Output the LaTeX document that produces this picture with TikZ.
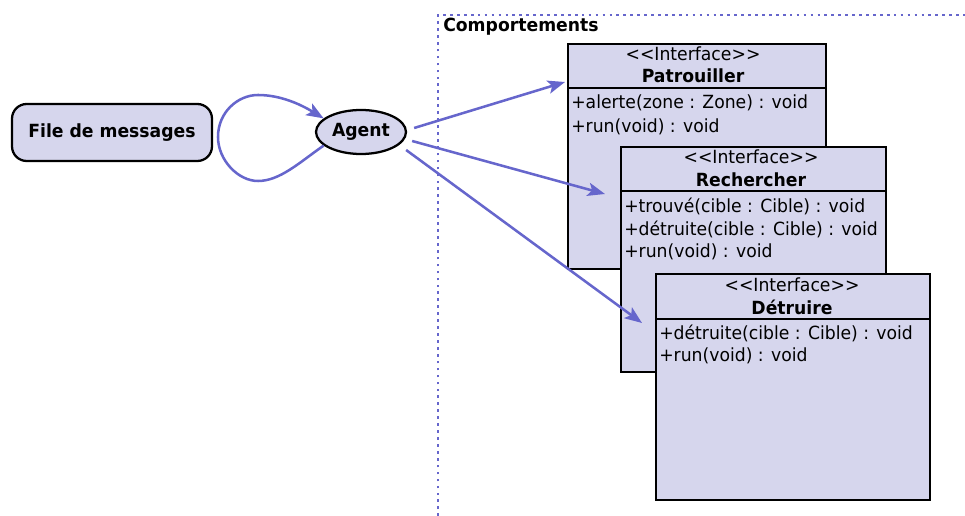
\documentclass[tikz,border=0pt]{standalone}
\usepackage{fontspec}
\setmainfont{DejaVu Sans}[FakeStretch=0.95]
\usetikzlibrary{shapes.geometric,arrows.meta,calc}
\definecolor{lav}{RGB}{214,214,237}
\definecolor{arrblue}{RGB}{102,102,204}
\newcommand{\stereo}{<\kern0pt<Interface>\kern0pt>}
\newcommand{\fsz}{\fontsize{13.6}{15}\selectfont}
\begin{document}
\begin{tikzpicture}[x=0.75pt,y=-0.75pt,
  font=\fsz,
  umlbox/.style={draw=black, line width=1.3pt, fill=lav, rectangle, inner sep=0pt, anchor=north west},
  hdr/.style={inner sep=0pt, anchor=center},
  meth/.style={inner sep=0pt, anchor=west},
  arr/.style={draw=arrblue, line width=1.9pt, -{Stealth[length=13pt,width=10pt,inset=3pt]}},
  sep/.style={draw=black, line width=1.3pt}
]
\useasboundingbox (0,0) rectangle (965,516);

% frame
\draw[arrblue, line width=2pt, dash pattern=on 2pt off 3.2pt] (438,516) -- (438,15) -- (965,15);
\node[anchor=west, inner sep=0pt, font=\fsz\bfseries] (comp) at (443,27) {Comportements};

% left nodes
\node[draw=black, line width=1.7pt, fill=lav, rounded corners=11pt, minimum width=150pt, minimum height=42.75pt, inner sep=0pt, font=\fsz\bfseries] (fm) at (112,132.5) {File de messages};
\node[ellipse, draw=black, line width=1.7pt, fill=lav, minimum width=67.5pt, minimum height=33pt, inner sep=0pt, font=\fsz\bfseries] (ag) at (361,132) {Agent};

% Patrouiller
\node[umlbox, minimum width=193.5pt, minimum height=168.75pt] (pat) at (567,43) {};
\draw[sep] ([yshift=-33.75pt]pat.north west) -- ([yshift=-33.75pt]pat.north east);
\node[hdr] (patst) at (693,54) {\stereo};
\node[hdr, font=\fsz\bfseries] (patnm) at (693,76) {Patrouiller};
\node[meth] (patm1) at (571,103) {+alerte(zone : Zone) : void};
\node[meth] (patm2) at (571,127) {+run(void) : void};

% Rechercher
\node[umlbox, minimum width=198.75pt, minimum height=168.75pt] (rec) at (620,146) {};
\draw[sep] ([yshift=-33.75pt]rec.north west) -- ([yshift=-33.75pt]rec.north east);
\node[hdr] (recst) at (751,157) {\stereo};
\node[hdr, font=\fsz\bfseries] (recnm) at (751,180) {Rechercher};
\node[meth] (recm1) at (624,206) {+trouvé(cible : Cible) : void};
\node[meth] (recm2) at (624,229) {+détruite(cible : Cible) : void};
\node[meth] (recm3) at (624,252) {+run(void) : void};

% Detruire
\node[umlbox, minimum width=205.5pt, minimum height=169.5pt] (det) at (655,273) {};
\draw[sep] ([yshift=-34.5pt]det.north west) -- ([yshift=-34.5pt]det.north east);
\node[hdr] (detst) at (792,285) {\stereo};
\node[hdr, font=\fsz\bfseries] (detnm) at (792,307) {Détruire};
\node[meth] (detm1) at (659,333) {+détruite(cible : Cible) : void};
\node[meth] (detm2) at (659,356) {+run(void) : void};

% arrow targets
\coordinate (t1) at (565,82);
\coordinate (t2) at (605,194);
\coordinate (t3) at (642,323);

% connectors
\draw[arr] (ag.200) .. controls (300,162) and (280,181) .. (258,181)
  .. controls (238,181) and (218,160) .. (218,137)
  .. controls (218,112) and (238,95) .. (258,95)
  .. controls (280,95) and (300,104) .. (ag.160);
\draw[arr] ([shift={(7,-4)}]ag.east) -- (t1);
\draw[arr] ([shift={(5,9)}]ag.east) -- (t2);
\draw[arr] ([shift={(-1,18)}]ag.east) -- (t3);
\end{tikzpicture}
\end{document}
